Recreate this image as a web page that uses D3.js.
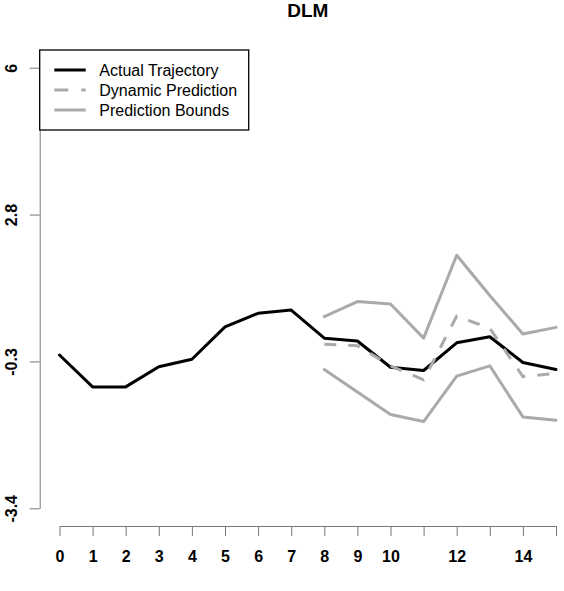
<!DOCTYPE html>
<html>
<head>
<meta charset="utf-8">
<script src="https://cdn.jsdelivr.net/npm/d3@7"></script>
<style>
  body { margin: 0; background: #fff; }
  text { font-family: "Liberation Sans", Arial, sans-serif; }
</style>
</head>
<body>
<div id="chart"></div>
<script>
// Data
var steps = [0, 1, 2, 3, 4, 5, 6, 7, 8, 9, 10, 11, 12, 13, 14, 15];
var actual = [-0.13, -0.81, -0.81, -0.38, -0.22, 0.47, 0.76, 0.83,
              0.23, 0.17, -0.39, -0.46, 0.13, 0.26, -0.29, -0.44];

var predSteps = [8, 9, 10, 11, 12, 13, 14, 15];
var dynPred = [0.10, 0.07, -0.36, -0.66, 0.70, 0.44, -0.59, -0.52];
var upper = [0.69, 1.01, 0.96, 0.23, 2.00, 1.14, 0.32, 0.46];
var lower = [-0.44, -0.92, -1.40, -1.55, -0.58, -0.36, -1.45, -1.52];

var xTicks = [0, 1, 2, 3, 4, 5, 6, 7, 8, 9, 10, 11, 12, 13, 14, 15];
var xTickLabels = ["0", "1", "2", "3", "4", "5", "6", "7", "8", "9", "10", "", "12", "", "14", ""];
var yTicks = [-3.4, -0.267, 2.867, 6];
var yTickLabels = ["-3.4", "-0.3", "2.8", "6"];

var legendLabels = ["Actual Trajectory", "Dynamic Prediction", "Prediction Bounds"];
var title = "DLM";

function init() {
    var w = 564, h = 591;
    var grey = "#aaaaaa";

    var svg = d3.select("#chart").append("svg")
        .attr("width", w)
        .attr("height", h);

    // scales
    var xScale = d3.scaleLinear().domain([0, 15]).range([59.5, 556]);
    var yScale = d3.scaleLinear().domain([-3.4, 6]).range([508.3, 67.7]);

    var plotLeft = 39.7, plotTop = 50, plotBottom = 526;
    var plotRight = xScale(15.6);

    // title
    svg.append("text")
        .attr("x", (plotLeft + plotRight) / 2)
        .attr("y", 16.7)
        .attr("text-anchor", "middle")
        .attr("font-weight", "bold")
        .attr("font-size", "19px")
        .text(title);

    var line = d3.line()
        .x(function(d) { return xScale(d[0]); })
        .y(function(d) { return yScale(d[1]); });

    var actualPts = steps.map(function(s, i) { return [s, actual[i]]; });
    var dynPts = predSteps.map(function(s, i) { return [s, dynPred[i]]; });
    var upPts = predSteps.map(function(s, i) { return [s, upper[i]]; });
    var loPts = predSteps.map(function(s, i) { return [s, lower[i]]; });

    svg.append("path")
        .datum(actualPts)
        .attr("d", line)
        .attr("fill", "none")
        .attr("stroke", "#000")
        .attr("stroke-width", 3)
        .attr("stroke-linejoin", "round")
        .attr("stroke-linecap", "round");

    svg.append("path")
        .datum(dynPts)
        .attr("d", line)
        .attr("fill", "none")
        .attr("stroke", grey)
        .attr("stroke-width", 3)
        .attr("stroke-dasharray", "12,12");

    [upPts, loPts].forEach(function(pts) {
        svg.append("path")
            .datum(pts)
            .attr("d", line)
            .attr("fill", "none")
            .attr("stroke", grey)
            .attr("stroke-width", 3)
            .attr("stroke-linejoin", "round")
            .attr("stroke-linecap", "round");
    });

    // x axis
    var xAxis = d3.axisBottom(xScale)
        .tickValues(xTicks)
        .tickFormat(function(d, i) { return xTickLabels[i]; })
        .tickSize(10)
        .tickSizeOuter(0);

    var gx = svg.append("g")
        .attr("transform", "translate(0," + plotBottom + ")")
        .call(xAxis);
    gx.selectAll("path, line").attr("stroke", "#777");
    gx.selectAll("text")
        .attr("y", 36)
        .attr("dy", "0")
        .attr("fill", "#000")
        .attr("font-weight", "bold")
        .attr("font-size", "16px")
        .attr("font-family", "Liberation Sans, Arial, sans-serif");

    // y axis
    var yAxis = d3.axisLeft(yScale)
        .tickValues(yTicks)
        .tickFormat(function(d, i) { return yTickLabels[i]; })
        .tickSize(10)
        .tickSizeOuter(0);

    var gy = svg.append("g")
        .attr("transform", "translate(" + plotLeft + ",0)")
        .call(yAxis);
    gy.selectAll("path, line").attr("stroke", "#777");
    gy.selectAll("text")
        .attr("transform", "rotate(-90)")
        .attr("x", 0)
        .attr("y", -23)
        .attr("dy", "0")
        .attr("text-anchor", "middle")
        .attr("fill", "#000")
        .attr("font-weight", "bold")
        .attr("font-size", "16px")
        .attr("font-family", "Liberation Sans, Arial, sans-serif");

    // legend
    var legend = svg.append("g");
    legend.append("rect")
        .attr("x", plotLeft)
        .attr("y", plotTop)
        .attr("width", 209)
        .attr("height", 80)
        .attr("fill", "#fff")
        .attr("stroke", "#000")
        .attr("stroke-width", 1.3);

    var legendStyles = [
        { color: "#000", dash: null },
        { color: grey, dash: "14,13" },
        { color: grey, dash: null }
    ];
    legendLabels.forEach(function(lbl, i) {
        var cy = 70 + i * 20;
        legend.append("line")
            .attr("x1", 54.3).attr("x2", 85.7)
            .attr("y1", cy).attr("y2", cy)
            .attr("stroke", legendStyles[i].color)
            .attr("stroke-width", 3)
            .attr("stroke-dasharray", legendStyles[i].dash);
        legend.append("text")
            .attr("x", 99.3)
            .attr("y", cy + 5.5)
            .attr("font-size", "16px")
            .attr("fill", "#000")
            .text(lbl);
    });
}

window.onload = init;
</script>
</body>
</html>
